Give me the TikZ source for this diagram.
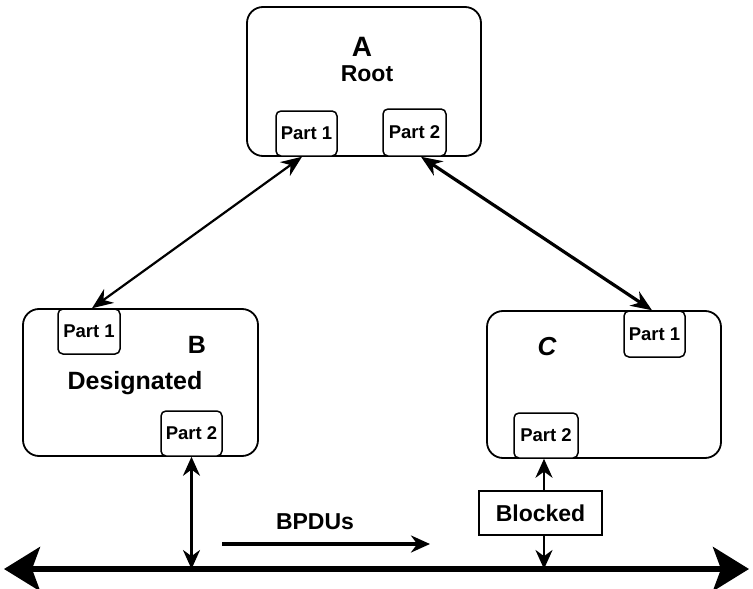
\documentclass[tikz,border=0pt]{standalone}
\usepackage{fontspec}
\setmainfont{Liberation Sans}
\usetikzlibrary{arrows.meta}
\begin{document}
\begin{tikzpicture}[x=1pt,y=-1pt,
  sw/.style={draw, line width=1.8pt, rounded corners=16pt, inner sep=0pt},
  port/.style={draw, line width=1.5pt, rounded corners=5pt, inner sep=0pt, font=\bfseries\fontsize{18.5}{18.5}\selectfont},
  lbl/.style={font=\bfseries\fontsize{25}{25}\selectfont, inner sep=0pt},
  link/.style={line width=2.2pt, {Stealth[length=21pt,width=17pt]}-{Stealth[length=21pt,width=17pt]}},
  vlink/.style={line width=2.8pt, {Stealth[length=19pt,width=17pt]}-{Stealth[length=19pt,width=17pt]}},
  onearrow/.style={line width=2.8pt, -{Stealth[length=19pt,width=17pt]}},
  bus/.style={line width=5.5pt, {Stealth[length=36pt,width=44pt,inset=8pt]}-{Stealth[length=36pt,width=44pt,inset=8pt]}},
  tag/.style={draw, line width=2pt, inner sep=0pt, font=\bfseries\fontsize{23}{23}\selectfont}
]
\useasboundingbox (0,0) rectangle (753,589);

% switches
\node[sw, minimum width=234pt, minimum height=149pt] (A) at (364,81.5) {};
\node[sw, minimum width=235pt, minimum height=147pt] (B) at (140.5,382.5) {};
\node[sw, minimum width=234pt, minimum height=147pt] (C) at (604,384.5) {};

% ports
\node[port, fill=white, minimum width=61pt, minimum height=45pt] (A1) at (306.5,133.5) {Part 1};
\node[port, fill=white, minimum width=63pt, minimum height=47pt] (A2) at (414.5,132.5) {Part 2};
\node[port, fill=white, minimum width=62pt, minimum height=45pt] (B1) at (89,331.5) {Part 1};
\node[port, fill=white, minimum width=61pt, minimum height=45pt] (B2) at (191.5,433.5) {Part 2};
\node[port, fill=white, minimum width=61pt, minimum height=46pt] (C1) at (654.5,334) {Part 1};
\node[port, fill=white, minimum width=64pt, minimum height=45pt] (C2) at (546,435.5) {Part 2};

% labels
\node[lbl, font=\bfseries\fontsize{28}{28}\selectfont] (lA) at (362,47) {A};
\node[lbl, font=\bfseries\fontsize{23}{23}\selectfont] (lRoot) at (367,74) {Root};
\node[lbl] (lB) at (197,345) {B};
\node[lbl] (lDes) at (135,383) {Designated};
\node[lbl, font=\bfseries\itshape\fontsize{26}{26}\selectfont] (lC) at (547,347) {C};
\node[lbl, font=\bfseries\fontsize{23}{23}\selectfont] (lBP) at (315,522) {BPDUs};

% blocked box
\node[tag, minimum width=123pt, minimum height=44pt] (blk) at (540.5,513) {Blocked};

% bus
\coordinate (busL) at (4,569);
\coordinate (busR) at (749,569);
\draw[bus] (busL) -- (busR);

% BPDU arrow
\coordinate (bp1) at (222,544);
\coordinate (bp2) at (430,544);
\draw[onearrow, line width=3.5pt] (bp1) -- (bp2);

% links
\draw[link] ([xshift=-4.5pt]A1.south) -- ([xshift=3pt]B1.north);
\draw[link, line width=3.2pt] ([xshift=6.5pt]A2.south) -- ([xshift=-2.5pt]C1.north);
\draw[vlink] (B2.south) -- (B2.south |- busL);
\draw[onearrow] ([xshift=3.5pt]blk.north) -- ([xshift=3.5pt]blk.north |- C2.south);
\draw[onearrow] ([xshift=3.5pt]blk.south) -- ([xshift=3.5pt]blk.south |- busL);
\end{tikzpicture}
\end{document}
